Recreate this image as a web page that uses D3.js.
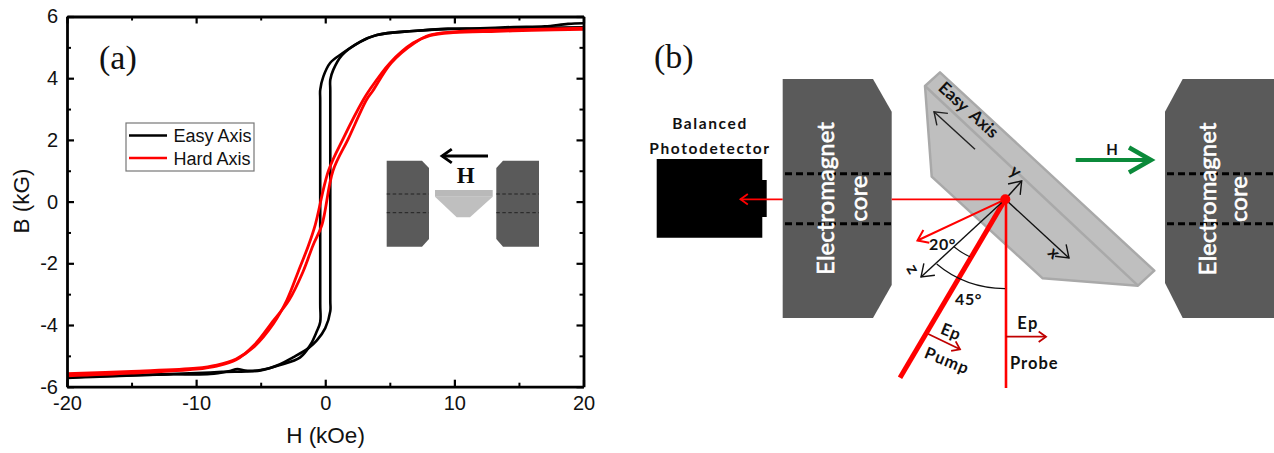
<!DOCTYPE html>
<html>
<head>
<meta charset="utf-8">
<script src="https://cdn.jsdelivr.net/npm/d3@7"></script>
<style>
  html, body { margin: 0; padding: 0; background: #fff; }
  svg { display: block; }
  .tick text { font-family: "Liberation Sans", sans-serif; font-size: 20px; fill: #111; }
</style>
</head>
<body>
<div id="chart"></div>
<script>
// [H (kOe), B (kG)], one list per sweep direction
const easyDown = [[20,5.78],[18.8,5.76],[17,5.68],[14.6,5.66],[12,5.62],[9.5,5.6],[6.8,5.53],[4,5.4],[2.7,5.18],[1.3,4.8],[0.39,4.5],[-0.15,4.05],[-0.39,3.62],[-0.39,3.3],[-0.39,-3.3],[-0.39,-3.9],[-0.65,-4.2],[-1.16,-4.65],[-1.94,-5.05],[-3.5,-5.3],[-5,-5.46],[-6.2,-5.48],[-6.8,-5.43],[-7.5,-5.5],[-8.9,-5.59],[-12.2,-5.6],[-16,-5.64],[-20,-5.7]]
const easyUp = [[-20,-5.72],[-18,-5.68],[-14,-5.62],[-10,-5.56],[-8,-5.52],[-5,-5.47],[-3.5,-5.27],[-2.5,-5.05],[-1.3,-4.75],[-0.65,-4.5],[0,-4.1],[0.39,-3.55],[0.39,-3.2],[0.39,3.6],[0.39,3.95],[0.62,4.27],[1.3,4.75],[2.7,5.18],[4,5.4],[6.8,5.53],[9.5,5.6],[12,5.6],[14.6,5.62],[17,5.64],[20,5.65]]
const hardDown = [[20,5.58],[16,5.55],[13.3,5.52],[9.9,5.48],[8.1,5.38],[6.8,5.14],[5,4.49],[3.4,3.6],[2.95,3.3],[1.4,2.05],[0.25,1],[-0.78,-0.76],[-1.3,-1.42],[-2.1,-2.28],[-2.97,-3.19],[-4,-3.95],[-5.5,-4.7],[-6.9,-5.1],[-8.4,-5.3],[-10,-5.4],[-15,-5.5],[-20,-5.58]]
const hardUp = [[-20,-5.65],[-15,-5.56],[-10,-5.43],[-8.4,-5.33],[-6.9,-5.13],[-5.5,-4.65],[-4,-3.85],[-2.8,-3.19],[-1.73,-2.28],[-0.95,-1.42],[-0.26,-0.76],[0.6,1],[1.8,2.05],[3.2,3.3],[3.7,3.6],[5.1,4.49],[6.9,5.14],[8.1,5.4],[9.9,5.5],[13.3,5.56],[16,5.58],[20,5.62]]

const xMajor = [-20, -10, 0, 10, 20]
const xMinor = [-15, -5, 5, 15]
const yMajor = [-6, -4, -2, 0, 2, 4, 6]
const yMinor = [-5, -3, -1, 1, 3, 5]
const legendLabels = ['Easy Axis', 'Hard Axis']
const legendColors = ['#000', '#f00']

const w = 1274
const h = 453
const plot = { left: 67, right: 583.5, top: 16.5, bottom: 386.7 }

const svg = d3.select('#chart').append('svg')
  .attr('width', w)
  .attr('height', h)
  .attr('viewBox', `0 0 ${w} ${h}`)

const xScale = d3.scaleLinear().domain([-20, 20]).range([plot.left, plot.right])
const yScale = d3.scaleLinear().domain([-6, 6]).range([plot.bottom, plot.top])

const sans = '"Liberation Sans", sans-serif'
const serif = '"Liberation Serif", serif'
const label = 'Lato, "Noto Sans", sans-serif'

// ---- panel (a) ----
function drawAxis(axisFn, scale, transform, major, minor, showText) {
  const fmt = showText ? (d => d) : (() => '')
  const a = svg.append('g')
    .attr('transform', transform)
    .call(axisFn(scale).tickValues(major).tickSizeInner(-7).tickSizeOuter(0).tickPadding(9).tickFormat(fmt))
  a.selectAll('line').attr('stroke', '#000').attr('stroke-width', 2.2)
  a.select('.domain').attr('stroke', '#000').attr('stroke-width', 2.8)
  const b = svg.append('g')
    .attr('transform', transform)
    .call(axisFn(scale).tickValues(minor).tickSizeInner(-4).tickSizeOuter(0).tickFormat(() => ''))
  b.selectAll('line').attr('stroke', '#000').attr('stroke-width', 2)
  b.select('.domain').remove()
}

const line = d3.line().x(d => xScale(d[0])).y(d => yScale(d[1])).curve(d3.curveCatmullRom.alpha(0.5))

;[easyDown, easyUp].forEach(d => {
  svg.append('path').attr('d', line(d)).attr('fill', 'none')
    .attr('stroke', '#000').attr('stroke-width', 2.6).attr('stroke-linejoin', 'round')
})
;[hardDown, hardUp].forEach(d => {
  svg.append('path').attr('d', line(d)).attr('fill', 'none')
    .attr('stroke', '#f00').attr('stroke-width', 2.8).attr('stroke-linejoin', 'round')
})

drawAxis(d3.axisBottom, xScale, `translate(0,${plot.bottom})`, xMajor, xMinor, true)
drawAxis(d3.axisTop, xScale, `translate(0,${plot.top})`, xMajor, xMinor, false)
drawAxis(d3.axisLeft, yScale, `translate(${plot.left},0)`, yMajor, yMinor, true)
drawAxis(d3.axisRight, yScale, `translate(${plot.right},0)`, yMajor, yMinor, false)

function text(str, x, y, opts) {
  const o = opts || {}
  const t = svg.append('text')
    .attr('x', x).attr('y', y)
    .attr('font-family', o.font || sans)
    .attr('font-size', o.size || 16)
    .attr('font-weight', o.weight || 'normal')
    .attr('fill', o.fill || '#111')
    .attr('text-anchor', o.anchor || 'start')
    .text(str)
  if (o.spacing) t.attr('letter-spacing', o.spacing)
  if (o.rotate !== undefined) t.attr('transform', `rotate(${o.rotate} ${x} ${y})`)
  return t
}

text('H (kOe)', 325.5, 443, { size: 22.5, anchor: 'middle' })
text('B (kG)', 29, 201, { size: 22.5, anchor: 'middle', rotate: -90 })
text('(a)', 99, 69, { font: serif, size: 34 })
text('(b)', 654, 68, { font: serif, size: 34 })

svg.append('rect').attr('x', 126).attr('y', 123).attr('width', 128).attr('height', 48)
  .attr('fill', '#fff').attr('stroke', '#777').attr('stroke-width', 1.2)
legendLabels.forEach((d, i) => {
  const y = 135.5 + i * 22.5
  svg.append('line').attr('x1', 129).attr('x2', 167).attr('y1', y).attr('y2', y)
    .attr('stroke', legendColors[i]).attr('stroke-width', 2.4)
  text(d, 173.5, y + 6.5, { size: 18 })
})

const polyLine = d3.line()
function poly(points, fill, stroke, sw) {
  return svg.append('path').attr('d', polyLine(points) + 'Z')
    .attr('fill', fill).attr('stroke', stroke || 'none').attr('stroke-width', sw || 0)
    .attr('stroke-linejoin', 'round')
}
function seg(x1, y1, x2, y2, color, width, dash) {
  const l = svg.append('line').attr('x1', x1).attr('y1', y1).attr('x2', x2).attr('y2', y2)
    .attr('stroke', color).attr('stroke-width', width)
  if (dash) l.attr('stroke-dasharray', dash)
  return l
}
function arrow(x1, y1, x2, y2, color, width, head) {
  seg(x1, y1, x2, y2, color, width)
  const a = Math.atan2(y2 - y1, x2 - x1)
  const pts = [-0.62, 0.62].map(t => [x2 - head * Math.cos(a + t), y2 - head * Math.sin(a + t)])
  svg.append('path').attr('d', polyLine([pts[0], [x2, y2], pts[1]]))
    .attr('fill', 'none').attr('stroke', color).attr('stroke-width', width)
}

// inset sketch
const core = '#5a5a5a'
poly([[386.7,160.7],[422,160.7],[429,168],[429,239],[422,246.7],[386.7,246.7]], core)
poly([[503,160.7],[539,160.7],[539,246.7],[503,246.7],[496.3,239],[496.3,168]], core)
;[194, 212.7].forEach(y => {
  seg(386.7, y, 429, y, '#222', 1, '3.5 2.5')
  seg(496.3, y, 539, y, '#222', 1, '3.5 2.5')
})
poly([[435,196.7],[492.7,196.7],[470,217.3],[456.7,217.3]], '#bfbfbf')
poly([[435,190],[492.7,190],[492.7,196.7],[435,196.7]], '#b9b9b9')
arrow(488, 156, 442, 156, '#000', 2.8, 12)
text('H', 465.7, 182.7, { font: serif, size: 23, weight: 'bold', anchor: 'middle', fill: '#0c0c0c' })

// ---- panel (b) ----
poly([[782.7,79],[873,79],[891.7,111.7],[891.7,285],[873,318],[782.7,318]], core)
poly([[1182.7,79],[1274,79],[1274,318],[1182.7,318],[1165,283],[1165,111.7]], core)
;[173.7, 223.7].forEach(y => {
  seg(785, y, 891, y, '#000', 3, '7 4')
  seg(1167, y, 1274, y, '#000', 3, '7 4')
})
function coreLabel(str, x, y) {
  text(str, x, y, { font: label, size: 24, fill: '#fff', anchor: 'middle', rotate: -90 })
    .attr('stroke', '#fff').attr('stroke-width', 0.6)
}
coreLabel('Electromagnet', 834, 198.5)
coreLabel('core', 867, 198.5)
coreLabel('Electromagnet', 1216, 199)
coreLabel('core', 1247, 199)

// detector
poly([[656.7,159],[762.3,159],[762.3,180],[766.7,180],[766.7,217],[762.3,217],[762.3,237.7],[656.7,237.7]], '#000')
text('Balanced', 710, 129, { font: label, size: 15.5, weight: 'bold', anchor: 'middle', spacing: 1.6 })
text('Photodetector', 710, 154, { font: label, size: 15.5, weight: 'bold', anchor: 'middle', spacing: 1.6 })

// sample
poly([[940,72.3],[925,86],[931.7,176.7],[1042.7,278.3],[1138,285.7],[1154.3,270.7]], '#bfbfbf', '#a9a9a9', 2.5)
seg(925, 86, 1138, 285.7, '#a9a9a9', 2.5)
arrow(975, 149.3, 934, 111.7, '#222', 1.4, 14)
text('Easy', 950, 101, { font: label, size: 17, weight: 'bold', anchor: 'middle', rotate: 43 })
text('Axis', 980, 128, { font: label, size: 17, weight: 'bold', anchor: 'middle', rotate: 43 })

// beams
seg(891.7, 199.3, 1005, 199.3, '#f00', 1.8)
arrow(782.7, 199.3, 740.5, 199.3, '#f00', 1.8, 9)
arrow(1005.3, 199.3, 917.5, 240.5, '#f00', 2, 12)
seg(1005.3, 199.3, 900, 377.7, '#f00', 5)
seg(1006, 199.3, 1006, 388, '#f00', 2.6)

// xyz axes
arrow(1005.3, 199.3, 921, 277, '#111', 1.4, 14)
arrow(1005.3, 199.3, 1069, 258, '#111', 1.4, 14)
arrow(1005.3, 199.3, 1021.7, 181, '#111', 1.4, 14)
svg.append('circle').attr('cx', 1005.3).attr('cy', 199.3).attr('r', 5).attr('fill', '#f00')

svg.append('path').attr('d', 'M954,246.7 Q963,254 970,256.7').attr('fill', 'none').attr('stroke', '#111').attr('stroke-width', 1.2)
svg.append('path').attr('d', 'M936.7,264 Q965,288 1005,288.7').attr('fill', 'none').attr('stroke', '#111').attr('stroke-width', 1.2)

text('y', 1012, 176, { font: label, size: 17, weight: 'bold', anchor: 'middle', rotate: 40 })
text('x', 1050, 257, { font: label, size: 17, weight: 'bold', anchor: 'middle', rotate: 45 })
text('z', 908, 272, { font: label, size: 17, weight: 'bold', anchor: 'middle', rotate: 60 })
text('20°', 929, 250, { font: label, size: 16, weight: 'bold', spacing: 0.6 })
text('45°', 955, 305, { font: label, size: 16, weight: 'bold', spacing: 0.6 })

// H field arrow
seg(1075.7, 160, 1150, 160, '#0b8a3a', 4)
svg.append('path').attr('d', polyLine([[1129,147.5],[1151,160],[1129,172.5]]))
  .attr('fill', 'none').attr('stroke', '#0b8a3a').attr('stroke-width', 4.5)
text('H', 1112, 155, { font: label, size: 15, weight: 'bold', anchor: 'middle' })

// polarisation
arrow(928.3, 334, 960, 349.3, '#c00000', 1.8, 9)
arrow(1006, 336.7, 1046, 336.7, '#c00000', 1.8, 9)
text('Ep', 949, 337, { font: label, size: 16.5, weight: 'bold', anchor: 'middle', rotate: 22, spacing: 1 })
text('Pump', 945, 366, { font: label, size: 16.5, weight: 'bold', anchor: 'middle', rotate: 22, spacing: 1 })
text('Ep', 1028, 329, { font: label, size: 16.5, weight: 'bold', anchor: 'middle', spacing: 1.5 })
text('Probe', 1010, 369, { font: label, size: 16.5, weight: 'bold', spacing: 1 })
</script>
</body>
</html>
